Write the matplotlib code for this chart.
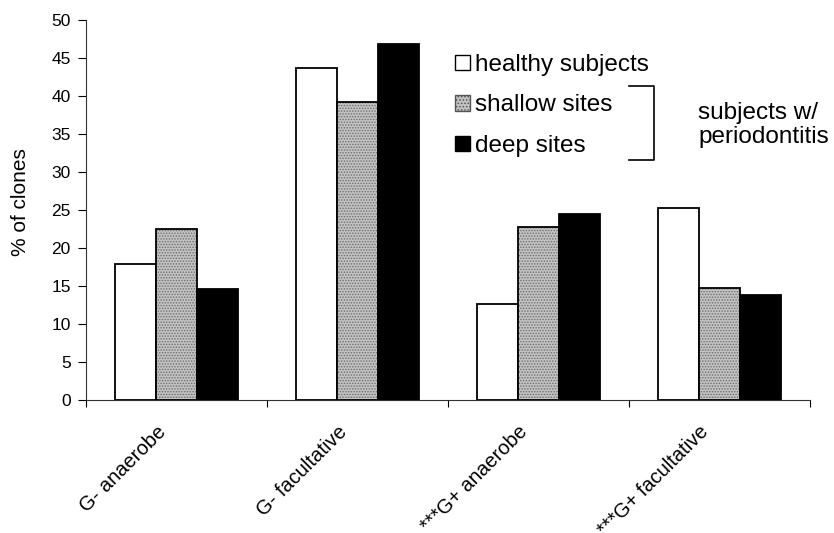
import matplotlib
matplotlib.use("Agg")
import matplotlib.pyplot as plt
import matplotlib.transforms as mtransforms
from matplotlib.patches import Patch
from matplotlib.lines import Line2D
import numpy as np

categories = ["G- anaerobe", "G- facultative", "***G+ anaerobe", "***G+ facultative"]
series_names = ["healthy subjects", "shallow sites", "deep sites"]
healthy = [17.9, 43.7, 12.6, 25.3]
shallow = [22.5, 39.2, 22.7, 14.8]
deep = [14.6, 46.8, 24.5, 13.8]
yticks = [0, 5, 10, 15, 20, 25, 30, 35, 40, 45, 50]

plt.rcParams['font.family'] = ['Liberation Sans', 'DejaVu Sans']
plt.rcParams['hatch.linewidth'] = 0.7

W, H = 834, 533
fig = plt.figure(figsize=(W / 100, H / 100), dpi=100)
ax = fig.add_axes([86 / W, (H - 400) / H, (810 - 86) / W, 380 / H])

x = np.arange(len(categories))
bw = 0.226
faces = ["white", "#c2c2c2", "black"]
for i, vals in enumerate([healthy, shallow, deep]):
    pos = x + (i - 1) * bw
    if i == 1:
        # stippled texture
        ax.bar(pos, vals, width=bw, facecolor=faces[i], edgecolor="#6e6e6e",
               hatch="......", linewidth=0, zorder=3)
        ax.bar(pos, vals, width=bw, fill=False, edgecolor="black",
               linewidth=1.3, zorder=4)
    else:
        ax.bar(pos, vals, width=bw, facecolor=faces[i], edgecolor="black",
               linewidth=1.3, zorder=3)

ax.set_xlim(-0.5, len(categories) - 0.5)
ax.set_ylim(0, 50)
ax.set_yticks(yticks)
ax.tick_params(axis='y', direction='out', length=6, width=0.8, pad=5, labelsize=12.5)
ax.set_xticks(x)
ax.set_xticklabels(categories, rotation=45, ha='right', va='top', fontsize=14.5)
ax.tick_params(axis='x', which='major', length=0, pad=16)
ax.set_xticks(np.arange(-0.5, len(categories)), minor=True)
ax.tick_params(axis='x', which='minor', direction='out', length=5, width=0.8)
offset = mtransforms.ScaledTranslation(-7 / 100, 0, fig.dpi_scale_trans)
for lab in ax.get_xticklabels():
    lab.set_transform(lab.get_transform() + offset)

for s in ['top', 'right']:
    ax.spines[s].set_visible(False)
for s in ['left', 'bottom']:
    ax.spines[s].set_linewidth(0.8)
    ax.spines[s].set_color('#333333')

ax.set_ylabel("% of clones", fontsize=15)
ax.yaxis.set_label_coords((30 - 86) / 724, (400 - 202) / 380)

handles = [
    Patch(facecolor="white", edgecolor="black", linewidth=1.0),
    Patch(facecolor="#c2c2c2", edgecolor="#555555", linewidth=1.0, hatch="....."),
    Patch(facecolor="black", edgecolor="black", linewidth=1.0),
]
leg = fig.legend(handles, series_names, loc='upper left',
                 bbox_to_anchor=(455 / W, 1 - 54 / H), frameon=False,
                 fontsize=17.5, handlelength=0.62, handleheight=0.62,
                 handletextpad=0.2, labelspacing=0.76, borderpad=0, borderaxespad=0)

# bracket
bx, by0, by1, bl = 654, 86, 160, 25
fig.add_artist(Line2D([(bx - bl) / W, bx / W, bx / W, (bx - bl) / W],
                      [1 - by0 / H, 1 - by0 / H, 1 - by1 / H, 1 - by1 / H],
                      color='black', linewidth=1.2))
fig.text(698 / W, 1 - 125 / H, "subjects w/\nperiodontitis", fontsize=17.5,
         ha='left', va='center', linespacing=1.1)

fig.savefig("out.png", dpi=100)
